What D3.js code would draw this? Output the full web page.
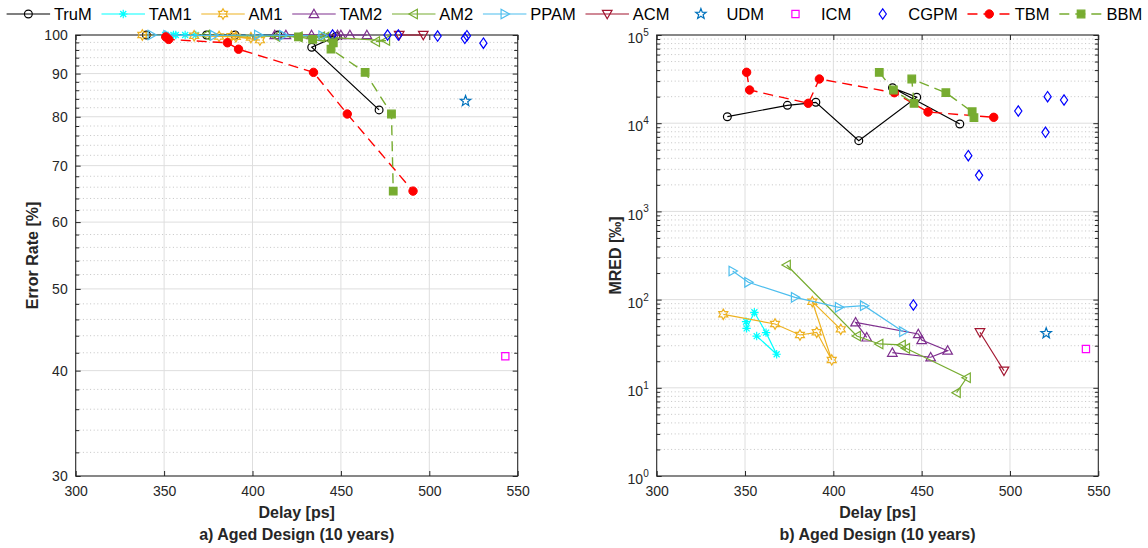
<!DOCTYPE html>
<html><head><meta charset="utf-8">
<script src="https://cdn.jsdelivr.net/npm/d3@7"></script>
<style>
body{margin:0;background:#fff}
svg{display:block;font-family:"Liberation Sans",Arial,Helvetica,sans-serif}
</style>
</head><body><svg id="c" width="1148" height="548"></svg>
<script>
// ---------------- data ----------------
const seriesNames = ["TruM","TAM1","AM1","TAM2","AM2","PPAM","ACM","UDM","ICM","CGPM","TBM","BBM"];
const delayTicks = [300,350,400,450,500,550];
const errorTicks = [30,40,50,60,70,80,90,100];
const mredTicks = [1,10,100,1000,10000,100000];
const errorTickLabels = ["30","40","50","60","70","80","90","100"];
const mredExponents = ["0","1","2","3","4","5"];

const trumDelay = [340.0, 374.0, 390.1, 414.4, 447.2, 433.5, 471.6];
const trumError = [100, 100, 100, 100, 99.6, 96.7, 81.5];
const trumMred  = [11850, 15950, 17260, 6340, 19680, 25270, 9790];

const tam1Delay = [350.6, 350.9, 355.3, 361.9, 367.9, 356.6];
const tam1Error = [100, 100, 100, 100, 100, 100];
const tam1Mred  = [56.2, 47.2, 71.8, 42.2, 24.0, 38.6];

const am1Delay = [337.7, 367.0, 381.1, 390.6, 399.1, 388.1, 404.2];
const am1Error = [100, 99.8, 99.6, 99.5, 99.3, 99.7, 98.6];
const am1Mred  = [68.1, 52.9, 39.7, 42.6, 20.7, 94.7, 46.0];

const tam2Delay = [418.9, 412.6, 448.1, 450.0, 464.7, 455.1, 433.4];
const tam2Error = [100, 100, 100, 100, 100, 100, 100];
const tam2Mred  = [37.3, 55.3, 40.7, 34.8, 26.4, 22.2, 25.0];

const am2Delay = [373.6, 413.3, 426.0, 438.7, 441.1, 475.5, 469.8];
const am2Error = [100, 99.6, 99.5, 99.5, 99.4, 98.5, 98.2];
const am2Mred  = [247, 38.7, 31.4, 30.6, 28.0, 13.0, 8.8];

const ppamDelay = [343.0, 351.9, 378.3, 403.2, 417.4, 439.6];
const ppamError = [100, 99.9, 99.9, 100, 99.9, 99.8];
const ppamMred  = [211, 157, 106, 81.8, 85.3, 43.3];

const acmDelay = [483.0, 496.6];
const acmError = [100, 100];
const acmMred  = [42.6, 15.6];

const udmDelay = [520.5];
const udmError = [83.5];
const udmMred  = [41.5];

const icmDelay = [543.0];
const icmError = [41.6];
const icmMred  = [27.5];

const cgpmDelay = [445.3, 476.4, 482.5, 504.7, 520.1, 521.3, 530.6];
const cgpmError = [100, 100, 100, 99.7, 99.1, 99.8, 97.8];
const cgpmMred  = [86.9, 4285, 2566, 13750, 7880, 19970, 18320];

const tbmDelay = [350.9, 352.6, 385.8, 392.1, 434.5, 453.6, 490.8];
const tbmError = [99.5, 98.8, 97.9, 96.2, 90.3, 80.6, 65.3];
const tbmMred  = [37760, 23790, 16810, 31700, 22170, 13400, 11660];

const bbmDelay = [426.0, 434.0, 445.7, 444.4, 463.7, 478.6, 479.6];
const bbmError = [99.5, 98.8, 97.9, 96.2, 90.3, 80.6, 65.3];
const bbmMred  = [37760, 23790, 16810, 31700, 22170, 13490, 11540];

// ---------------- build table ----------------
const rawData = {
  TruM:[trumDelay,trumError,trumMred], TAM1:[tam1Delay,tam1Error,tam1Mred],
  AM1:[am1Delay,am1Error,am1Mred], TAM2:[tam2Delay,tam2Error,tam2Mred],
  AM2:[am2Delay,am2Error,am2Mred], PPAM:[ppamDelay,ppamError,ppamMred],
  ACM:[acmDelay,acmError,acmMred], UDM:[udmDelay,udmError,udmMred],
  ICM:[icmDelay,icmError,icmMred], CGPM:[cgpmDelay,cgpmError,cgpmMred],
  TBM:[tbmDelay,tbmError,tbmMred], BBM:[bbmDelay,bbmError,bbmMred]
};
const styles = {
  TruM:{color:"#000000",marker:"o",line:true},
  TAM1:{color:"#00FFFF",marker:"*",line:true},
  AM1:{color:"#EDB120",marker:"h",line:true},
  TAM2:{color:"#7E2F8E",marker:"^",line:true},
  AM2:{color:"#77AC30",marker:"<",line:true},
  PPAM:{color:"#4DBEEE",marker:">",line:true},
  ACM:{color:"#A2142F",marker:"v",line:true},
  UDM:{color:"#0072BD",marker:"p",line:false},
  ICM:{color:"#FF00FF",marker:"s",line:false},
  CGPM:{color:"#0000FF",marker:"d",line:false},
  TBM:{color:"#FF0000",marker:"O",line:true,dash:"10,6"},
  BBM:{color:"#77AC30",marker:"S",line:true,dash:"10,6"}
};
const series = seriesNames.map(n=>({
  name:n, style:styles[n],
  pts:rawData[n][0].map((d,i)=>({delay:d, error:rawData[n][1][i], mred:rawData[n][2][i]}))
}));

function starPath(n, R, r){
  let p=[];
  for(let i=0;i<2*n;i++){
    const a=-Math.PI/2 + i*Math.PI/n;
    const rr = i%2===0?R:r;
    p.push([rr*Math.cos(a), rr*Math.sin(a)]);
  }
  return "M"+p.map(q=>q[0].toFixed(2)+","+q[1].toFixed(2)).join("L")+"Z";
}
const markerPaths = {
  "*":"M-4.2,0H4.2M0,-4.2V4.2M-3,-3L3,3M-3,3L3,-3",
  "h":starPath(6,5.2,3.0),
  "p":starPath(5,5.5,2.3),
  "^":"M0,-4.8L4.8,3.6L-4.8,3.6Z",
  "v":"M0,4.8L4.8,-3.6L-4.8,-3.6Z",
  "<":"M-4.8,0L3.6,-4.8L3.6,4.8Z",
  ">":"M4.8,0L-3.6,-4.8L-3.6,4.8Z",
  "s":"M-3.6,-3.6H3.6V3.6H-3.6Z",
  "d":"M0,-5.2L3.6,0L0,5.2L-3.6,0Z",
  "S":"M-3.8,-3.8H3.8V3.8H-3.8Z"
};
function drawMarker(g, st, x, y){
  if(st.marker==="o"){
    g.append("circle").attr("cx",x).attr("cy",y).attr("r",3.9)
      .attr("fill","none").attr("stroke",st.color).attr("stroke-width",1.2);
  } else if(st.marker==="O"){
    g.append("circle").attr("cx",x).attr("cy",y).attr("r",4.2)
      .attr("fill",st.color).attr("stroke",st.color).attr("stroke-width",1);
  } else {
    const filled = st.marker==="S";
    g.append("path").attr("d",markerPaths[st.marker])
      .attr("transform",`translate(${x},${y})`)
      .attr("fill",filled?st.color:"none").attr("stroke",st.color)
      .attr("stroke-width",1.2).attr("stroke-linejoin","miter");
  }
}

const svg = d3.select("#c");
const TOP=35, BOT=476;
const axisColor="#262626";

function drawPanel(cfg){
  const x = d3.scaleLinear().domain([300,550]).range([cfg.x0,cfg.x1]);
  const y = d3.scaleLog().domain(cfg.yDomain).range([BOT,TOP]);
  const g = svg.append("g");
  // grid
  const grid = g.append("g");
  grid.selectAll(".ymin").data(cfg.minor).join("line")
    .attr("x1",cfg.x0).attr("x2",cfg.x1).attr("y1",d=>y(d)).attr("y2",d=>y(d))
    .attr("stroke","#b5b5b5").attr("stroke-width",0.8).attr("stroke-dasharray","1,2.6");
  grid.selectAll(".ymaj").data(cfg.major.slice(1,-1)).join("line")
    .attr("x1",cfg.x0).attr("x2",cfg.x1).attr("y1",d=>y(d)).attr("y2",d=>y(d))
    .attr("stroke","#dedede").attr("stroke-width",1);
  grid.selectAll(".xmaj").data(delayTicks.slice(1,-1)).join("line")
    .attr("x1",d=>x(d)).attr("x2",d=>x(d)).attr("y1",TOP).attr("y2",BOT)
    .attr("stroke","#dedede").attr("stroke-width",1);

  // axes
  const styleAxis = sel => {
    sel.select(".domain").remove();
    sel.selectAll(".tick line").attr("stroke",axisColor).attr("stroke-width",1);
    sel.selectAll("text").attr("fill",axisColor).style("font-size","14px")
      .style("font-family",'"Liberation Sans",Arial,Helvetica,sans-serif');
  };
  g.append("g").attr("transform",`translate(0,${BOT})`)
    .call(d3.axisBottom(x).tickValues(delayTicks).tickSize(-5).tickPadding(10).tickFormat(d3.format("d")))
    .call(styleAxis);
  g.append("g").attr("transform",`translate(0,${TOP})`)
    .call(d3.axisTop(x).tickValues(delayTicks).tickSize(-5).tickFormat(""))
    .call(styleAxis);
  const yl = g.append("g").attr("transform",`translate(${cfg.x0},0)`)
    .call(d3.axisLeft(y).tickValues(cfg.major).tickSize(-5).tickPadding(8).tickFormat((d,i)=>cfg.labels[i]))
    .call(styleAxis);
  g.append("g").attr("transform",`translate(${cfg.x0},0)`)
    .call(d3.axisLeft(y).tickValues(cfg.minor).tickSize(-3.5).tickFormat(""))
    .call(styleAxis);
  g.append("g").attr("transform",`translate(${cfg.x1},0)`)
    .call(d3.axisRight(y).tickValues(cfg.major).tickSize(-5).tickFormat(""))
    .call(styleAxis);
  g.append("g").attr("transform",`translate(${cfg.x1},0)`)
    .call(d3.axisRight(y).tickValues(cfg.minor).tickSize(-3.5).tickFormat(""))
    .call(styleAxis);
  if(cfg.sup){
    yl.selectAll(".tick text").each(function(d,i){
      const t=d3.select(this); t.text("").attr("dy","0.55em");
      t.append("tspan").text("10");
      t.append("tspan").text(cfg.sup[i]).attr("dy","-0.72em").style("font-size","10px");
    });
  }
  // box
  g.append("rect").attr("x",cfg.x0).attr("y",TOP).attr("width",cfg.x1-cfg.x0).attr("height",BOT-TOP)
    .attr("fill","none").attr("stroke",axisColor).attr("stroke-width",1.1);

  // labels
  const cx=(cfg.x0+cfg.x1)/2;
  g.append("text").attr("x",cx).attr("y",518).attr("text-anchor","middle")
    .style("font-size","16px").style("font-weight","bold").attr("fill",axisColor).text("Delay [ps]");
  g.append("text").attr("x",cx).attr("y",539.5).attr("text-anchor","middle")
    .style("font-size","16px").style("font-weight","bold").attr("fill",axisColor).text(cfg.title);
  g.append("text").attr("transform",`translate(${cfg.ylx},${(TOP+BOT)/2}) rotate(-90)`)
    .attr("text-anchor","middle").attr("dy","0.35em")
    .style("font-size","16px").style("font-weight","bold").attr("fill",axisColor).text(cfg.ylabel);

  // data
  const dg = g.append("g");
  series.forEach(s=>{
    const sg = dg.append("g");
    if(s.style.line){
      const line = d3.line().x(d=>x(d.delay)).y(d=>y(d[cfg.key]));
      sg.append("path").attr("d",line(s.pts)).attr("fill","none")
        .attr("stroke",s.style.color).attr("stroke-width",s.style.dash?1.4:1.2)
        .attr("stroke-dasharray",s.style.dash||null);
    }
    s.pts.forEach(p=>drawMarker(sg,s.style,x(p.delay),y(p[cfg.key])));
  });
}

const errMinor = d3.range(32,100,2).filter(v=>v%10!==0);
const mredMinor = [];
[1,10,100,1000,10000].forEach(b=>{ for(let m=2;m<=9;m++) mredMinor.push(m*b); });

drawPanel({x0:75.7,x1:517.7,yDomain:[30,100],major:errorTicks,labels:errorTickLabels,minor:errMinor,
  key:"error",ylabel:"Error Rate [%]",ylx:32,title:"a) Aged Design (10 years)"});
drawPanel({x0:656.7,x1:1098.3,yDomain:[1,100000],major:mredTicks,labels:mredTicks.map(String),sup:mredExponents,minor:mredMinor,
  key:"mred",ylabel:"MRED [‰]",ylx:615,title:"b) Aged Design (10 years)"});

// legend
const leg = svg.append("g");
let tx = 53.9;
const LY = 14;
series.forEach(s=>{
  const st=s.style;
  const lx0 = tx-47.3, lx1 = tx-3.8, mx=(lx0+lx1)/2;
  if(st.line){
    leg.append("line").attr("x1",lx0).attr("x2",lx1).attr("y1",LY).attr("y2",LY)
      .attr("stroke",st.color).attr("stroke-width",st.dash?1.4:1.2).attr("stroke-dasharray",st.dash||null);
  }
  drawMarker(leg,st,mx,LY);
  const t = leg.append("text").attr("x",tx).attr("y",LY).attr("dy","0.36em")
    .style("font-size","16.5px").attr("fill","#000").text(s.name);
  tx += t.node().getComputedTextLength() + 57;
});
</script>
</body></html>
